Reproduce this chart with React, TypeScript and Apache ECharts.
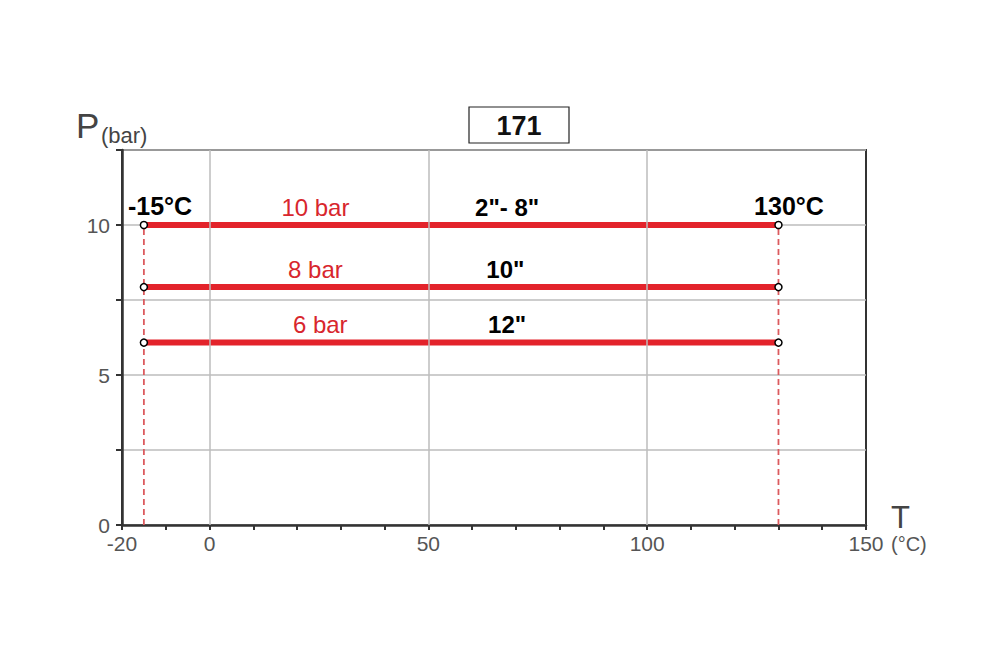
import React, { useEffect, useRef } from "react";
import * as echarts from "echarts";

const FONT = "'Liberation Sans', Arial, Helvetica, sans-serif";

const xLabelValues = [-20, 0, 50, 100, 150];
const yLabelValues = [0, 5, 10];
const verticalGrid = [0, 50, 100];

const tMin = -15;
const tMax = 130;
const pressureNames = ["10 bar", "8 bar", "6 bar"];
const pressureValues = [10, 7.93, 6.08];
const sizeNames = ['2"- 8"', '10"', '12"'];
const pressureLabelT = [24.2, 24.2, 25.3];
const sizeLabelT = [68, 67.6, 68];
const tempLabels = ["-15°C", "130°C"];
const tempLabelT = [-11.3, 132.4];
const titleText = "171";

const RED = "#e3232b";
const RED_TEXT = "#d8262d";

export default function App() {
  const ref = useRef<HTMLDivElement>(null);
  useEffect(() => {
    if (!ref.current) return;
    const chart = echarts.init(ref.current, null, { renderer: "svg" });

    const lineSeries = pressureValues.map((p, i) => ({
      type: "line",
      name: pressureNames[i],
      z: 3,
      data: [
        [tMin, p],
        [tMax, p],
      ],
      symbol: "circle",
      symbolSize: 7,
      itemStyle: { color: "#fff", borderColor: "#000", borderWidth: 1.5 },
      lineStyle: { color: RED, width: 6 },
      label: { show: false },
    }));

    const dashed = [tMin, tMax].map((t) => ({
      type: "line",
      z: 2,
      data: [
        [t, 0],
        [t, pressureValues[0]],
      ],
      symbol: "none",
      lineStyle: { color: "#dc5a5e", width: 1.8, type: [6, 4] },
    }));

    const gridSeries = {
      type: "line",
      z: 1,
      data: [],
      markLine: {
        silent: true,
        symbol: "none",
        label: { show: false },
        lineStyle: { color: "#bdbdbd", width: 1.5, type: "solid" },
        data: verticalGrid.map((v) => ({ xAxis: v })),
      },
    };

    const labelData: any[] = [];
    pressureValues.forEach((p, i) => {
      labelData.push({
        value: [pressureLabelT[i], p],
        name: pressureNames[i],
        label: { color: RED_TEXT, fontWeight: "normal" },
      });
      labelData.push({
        value: [sizeLabelT[i], p],
        name: sizeNames[i],
        label: { color: "#000", fontWeight: "bold" },
      });
    });
    tempLabels.forEach((t, i) => {
      labelData.push({
        value: [tempLabelT[i], pressureValues[0]],
        name: t,
        label: { color: "#000", fontWeight: "bold", fontSize: 25, distance: 7 },
      });
    });

    const labelSeries = {
      type: "scatter",
      z: 4,
      symbolSize: 0,
      data: labelData,
      itemStyle: { opacity: 1 },
      label: {
        show: true,
        position: "top",
        distance: 6,
        formatter: "{b}",
        fontSize: 24,
        fontFamily: FONT,
        textBorderWidth: 0,
        opacity: 1,
      },
    };

    chart.setOption({
      animation: false,
      grid: {
        left: 122,
        right: 134,
        top: 150,
        bottom: 142,
        show: true,
        borderColor: "#333",
        borderWidth: 2,
        backgroundColor: "transparent",
      },
      xAxis: {
        type: "value",
        min: -20,
        max: 150,
        interval: 10,
        axisLine: { show: true, onZero: false, lineStyle: { color: "#333", width: 2.5 } },
        axisTick: { show: true, length: 5, lineStyle: { color: "#333", width: 2 } },
        splitLine: { show: false },
        axisLabel: {
          show: true,
          showMinLabel: true,
          showMaxLabel: true,
          margin: 8,
          color: "#555",
          fontSize: 21,
          fontFamily: FONT,
          formatter: (v: number) => (xLabelValues.includes(v) ? String(v) : ""),
        },
      },
      yAxis: {
        type: "value",
        min: 0,
        max: 12.5,
        interval: 2.5,
        axisLine: { show: true, onZero: false, lineStyle: { color: "#333", width: 2.5 } },
        axisTick: { show: true, length: 6, lineStyle: { color: "#333", width: 2 } },
        splitLine: { show: true, lineStyle: { color: "#bdbdbd", width: 1.5 } },
        axisLabel: {
          show: true,
          margin: 12,
          color: "#555",
          fontSize: 21,
          fontFamily: FONT,
          formatter: (v: number) => (yLabelValues.includes(v) ? String(v) : ""),
        },
      },
      graphic: [
        {
          type: "rect",
          shape: { x: 469, y: 107, width: 100, height: 36 },
          style: { fill: "#fff", stroke: "#222", lineWidth: 1.2 },
        },
        {
          type: "text",
          x: 519,
          y: 126,
          style: {
            text: titleText,
            fontSize: 27,
            fontWeight: "bold",
            fontFamily: FONT,
            fill: "#111",
            align: "center",
            verticalAlign: "middle",
          },
        },
        {
          type: "text",
          x: 76,
          y: 143,
          style: {
            text: "P",
            fontSize: 35,
            fontFamily: FONT,
            fill: "#444",
            align: "left",
            verticalAlign: "bottom",
          },
        },
        {
          type: "text",
          x: 101,
          y: 146,
          style: {
            text: "(bar)",
            fontSize: 22,
            fontFamily: FONT,
            fill: "#444",
            align: "left",
            verticalAlign: "bottom",
          },
        },
        {
          type: "text",
          x: 891,
          y: 517.5,
          style: {
            text: "T",
            fontSize: 31,
            fontFamily: FONT,
            fill: "#444",
            align: "left",
            verticalAlign: "middle",
          },
        },
        {
          type: "text",
          x: 891,
          y: 544,
          style: {
            text: "(°C)",
            fontSize: 20,
            fontFamily: FONT,
            fill: "#555",
            align: "left",
            verticalAlign: "middle",
          },
        },
      ],
      series: [gridSeries, ...dashed, ...lineSeries, labelSeries],
    });
    return () => chart.dispose();
  }, []);
  return (
    <div
      ref={ref}
      style={{ position: "absolute", left: 0, top: 0, width: 1000, height: 667 }}
    />
  );
}
